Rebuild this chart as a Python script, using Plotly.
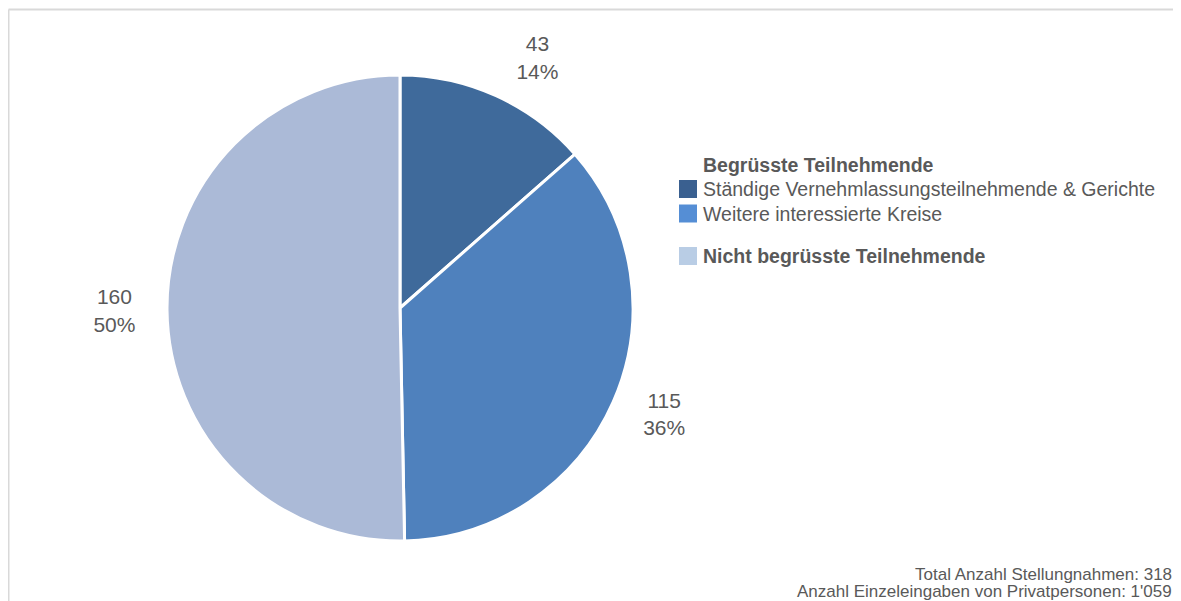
import plotly.graph_objects as go

categories = ["Ständige Vernehmlassungsteilnehmende & Gerichte", "Weitere interessierte Kreise", "Nicht begrüsste Teilnehmende"]
values = [43, 115, 160]
colors = ["#3F6A9B", "#4F81BD", "#ABBAD7"]
legend_colors = ["#3A6090", "#558ED5", "#B9CDE5"]
legend_title = "Begrüsste Teilnehmende"
footnote = ["Total Anzahl Stellungnahmen: 318", "Anzahl Einzeleingaben von Privatpersonen: 1'059"]

OFF = 8  # page body margin
W, H = 1181 - OFF, 601 - OFF
cx, cy, r = 400 - OFF, 308 - OFF, 233
r_lab = r + 19
font = "Liberation Sans, Arial"


def dom(rad):
    return dict(x=[(cx - rad) / W, (cx + rad) / W], y=[1 - (cy + rad) / H, 1 - (cy - rad) / H])


fig = go.Figure()
fig.add_trace(go.Pie(
    labels=categories, values=values, sort=False, direction="clockwise", rotation=0,
    marker=dict(colors=colors, line=dict(color="white", width=3)),
    textinfo="none", hoverinfo="label+value+percent", showlegend=False, domain=dom(r),
))
# label carrier (transparent, slightly larger) so outside labels sit further out
fig.add_trace(go.Pie(
    labels=categories, values=values, sort=False, direction="clockwise", rotation=0,
    marker=dict(colors=["rgba(0,0,0,0)"] * 3, line=dict(width=0)),
    texttemplate="%{value}<br>%{percent:.0%}", textposition="outside",
    textfont=dict(family=font, size=21, color="#595959"),
    hoverinfo="skip", showlegend=False, domain=dom(r_lab),
))

ann = []
shapes = []
shapes.append(dict(type="line", xref="paper", yref="paper", x0=0.5 / W, x1=1, y0=1 - 1.5 / H, y1=1 - 1.5 / H,
                   line=dict(color="#D9D9D9", width=2)))
shapes.append(dict(type="line", xref="paper", yref="paper", x0=0.5 / W, x1=0.5 / W, y0=0, y1=1 - 1.5 / H,
                   line=dict(color="#D9D9D9", width=2)))

lx_box, lx_text = 679 - OFF, 701 - OFF
ann.append(dict(text="<b>" + legend_title + "</b>", x=lx_text / W, y=1 - (165 - OFF) / H, xref="paper", yref="paper",
                xanchor="left", yanchor="middle", showarrow=False, font=dict(family=font, size=19.5, color="#595959")))
rows = [189, 213.5, 256]
for i, (cat, col) in enumerate(zip(categories, legend_colors)):
    yy = rows[i] - OFF
    txt = "<b>" + cat + "</b>" if i == 2 else cat
    ann.append(dict(text=txt, x=lx_text / W, y=1 - yy / H, xref="paper", yref="paper",
                    xanchor="left", yanchor="middle", showarrow=False, font=dict(family=font, size=19.5, color="#595959")))
    shapes.append(dict(type="rect", xref="paper", yref="paper", x0=lx_box / W, x1=(lx_box + 18) / W,
                       y0=1 - (yy + 9) / H, y1=1 - (yy - 9) / H, fillcolor=col, line=dict(width=0)))

for i, line in enumerate(footnote):
    ann.append(dict(text=line, x=(1174 - OFF) / W, y=1 - (574 - OFF + 17 * i) / H, xref="paper", yref="paper",
                    xanchor="right", yanchor="middle", showarrow=False, font=dict(family=font, size=17, color="#595959")))

fig.update_layout(width=W, height=H, margin=dict(l=0, r=0, t=0, b=0), paper_bgcolor="white",
                  plot_bgcolor="white", annotations=ann, shapes=shapes)
fig.write_html("out.html")
